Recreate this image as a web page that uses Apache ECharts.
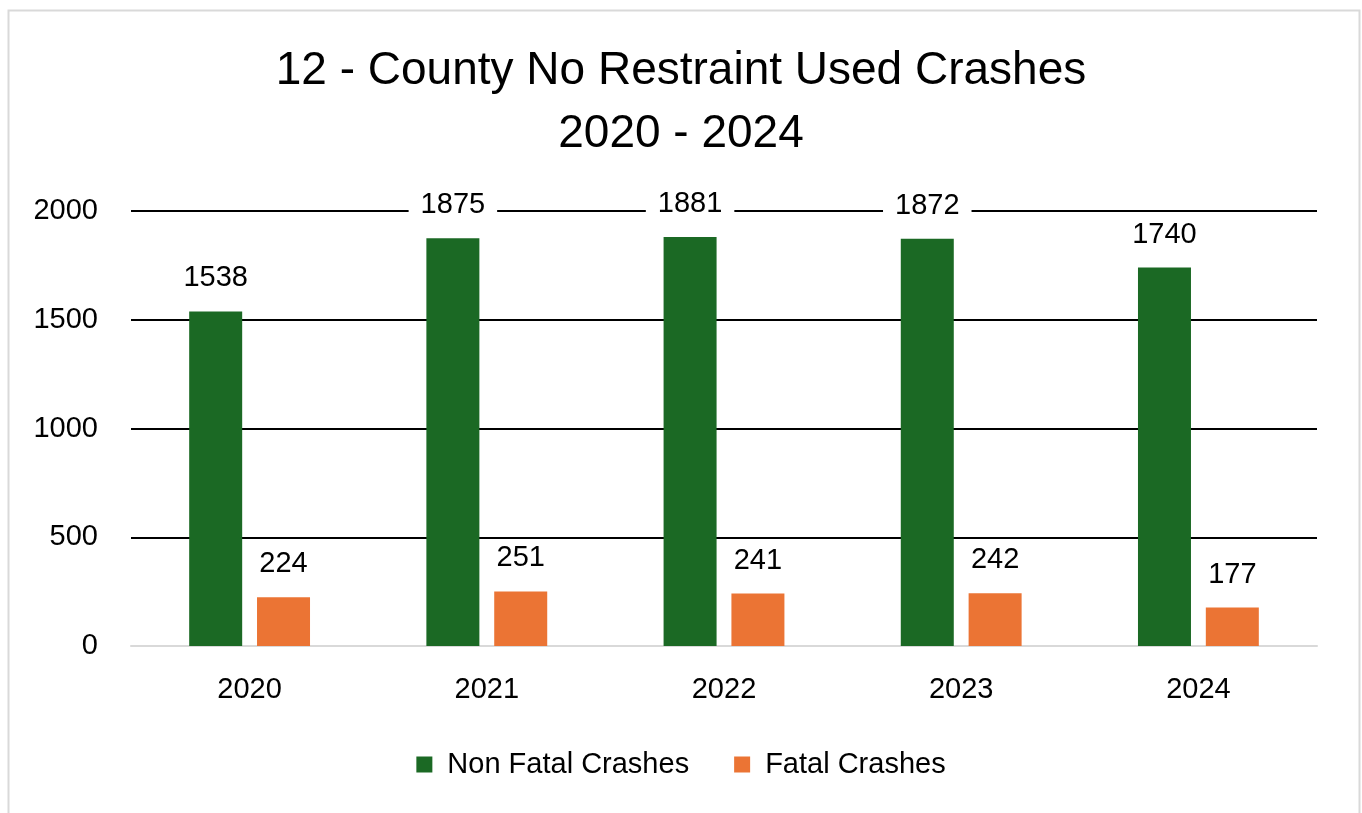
<!DOCTYPE html>
<html>
<head>
<meta charset="utf-8">
<script src="https://cdn.jsdelivr.net/npm/echarts@6/dist/echarts.min.js"></script>
<style>html,body{margin:0;padding:0;background:#fff;}#c{width:1362px;height:813px;}</style>
</head>
<body>
<div id="c"></div>
<script>
const categories = ['2020', '2021', '2022', '2023', '2024'];
const nonFatal = [1538, 1875, 1881, 1872, 1740];
const fatal = [224, 251, 241, 242, 177];
const yTicks = [0, 500, 1000, 1500, 2000];

const FONT = '"Liberation Sans", Arial, sans-serif';
const chart = echarts.init(document.getElementById('c'), null, {renderer: 'canvas'});
const labelCfg = {
  show: true, position: 'top', distance: 15,
  color: '#000', fontSize: 29, fontFamily: FONT,
  backgroundColor: '#fff', padding: [3, 12], lineHeight: 30
};
chart.setOption({
  backgroundColor: '#fff',
  animation: false,
  graphic: [{
    type: 'rect', left: 6, top: 8, silent: true,
    shape: {width: 1351, height: 820},
    style: {fill: 'none', stroke: '#d9d9d9', lineWidth: 2}
  }],
  title: {
    text: '12 - County No Restraint Used Crashes\n2020 - 2024',
    left: 'center', top: 40, padding: 0,
    textStyle: {fontSize: 46, fontWeight: 'normal', color: '#000', fontFamily: FONT, lineHeight: 63}
  },
  legend: {
    data: ['Non Fatal Crashes', 'Fatal Crashes'],
    left: 'center', top: 745,
    icon: 'rect', itemWidth: 16, itemHeight: 16, itemGap: 45,
    textStyle: {fontSize: 29, color: '#000', fontFamily: FONT, padding: [0, 0, 0, 10]}
  },
  grid: {left: 131, right: 45, top: 211, bottom: 167, containLabel: false},
  xAxis: {
    type: 'category', data: categories,
    axisLine: {lineStyle: {color: '#d9d9d9', width: 2}},
    axisTick: {show: false},
    axisLabel: {fontSize: 29, color: '#000', fontFamily: FONT, margin: 29}
  },
  yAxis: {
    type: 'value', min: yTicks[0], max: yTicks[yTicks.length - 1], interval: 500,
    axisLine: {show: false}, axisTick: {show: false},
    axisLabel: {fontSize: 29, color: '#000', fontFamily: FONT, margin: 33, formatter: v => String(v)},
    splitLine: {lineStyle: {color: '#000', width: 2}}
  },
  series: [
    {name: 'Non Fatal Crashes', type: 'bar', data: nonFatal, barWidth: 53, barGap: '28%',
     itemStyle: {color: '#1b6924'}, label: labelCfg},
    {name: 'Fatal Crashes', type: 'bar', data: fatal, barWidth: 53,
     itemStyle: {color: '#eb7434'}, label: labelCfg}
  ]
});
</script>
</body>
</html>
